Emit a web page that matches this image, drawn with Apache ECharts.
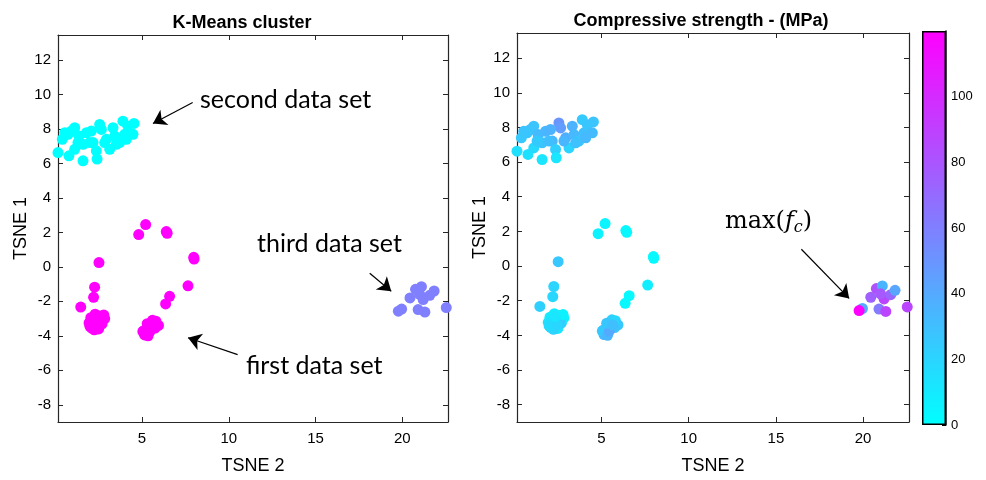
<!DOCTYPE html>
<html>
<head>
<meta charset="utf-8">
<script src="https://cdn.jsdelivr.net/npm/echarts@6/dist/echarts.min.js"></script>
<style>
html, body { margin: 0; padding: 0; background: #fff; }
#grafico { width: 986px; height: 480px; }
</style>
</head>
<body>
<div id="grafico"></div>
<script>
// tsne coordinates [TSNE 2, TSNE 1] per k-means cluster
var firstSet = [
  [5.21, 2.45], [4.81, 1.87], [6.40, 2.05], [6.45, 1.95], [7.98, 0.55], [8.00, 0.45],
  [2.52, 0.25], [7.65, -1.10], [2.27, -1.18], [2.21, -1.77], [6.59, -1.71], [6.36, -2.15],
  [1.47, -2.33],
  [1.95, -3.25], [2.05, -2.95], [2.10, -3.55], [2.30, -2.75], [2.35, -3.20], [2.50, -3.60],
  [2.60, -2.85], [2.70, -3.30], [2.85, -3.00], [2.15, -3.20], [2.45, -3.00], [2.25, -3.65],
  [2.65, -3.10], [2.00, -3.45], [2.80, -2.80], [2.45, -3.40], [2.35, -2.90],
  [5.10, -3.70], [5.15, -3.95], [5.30, -3.60], [5.45, -3.30], [5.60, -3.10], [5.80, -3.15],
  [5.95, -3.40], [5.25, -3.85], [5.55, -3.50], [5.05, -3.75], [5.35, -4.00], [5.75, -3.55],
  [5.70, -3.25], [5.45, -3.75], [5.30, -3.30], [5.65, -3.40]
];
var firstFc = [
  5, 6, 3, 4, 3, 3,
  26, 8, 20, 19, 3, 4,
  22,
  14, 10, 18, 9, 16, 12,
  11, 22, 8, 15, 13, 20,
  24, 17, 6, 19, 12,
  36, 32, 28, 26, 22, 18,
  26, 38, 31, 25, 34, 28,
  20, 40, 27, 30
];

var secondSet = [
  [0.16, 6.63], [0.41, 7.40], [0.55, 7.78], [0.79, 6.44], [0.93, 7.88], [1.12, 8.07],
  [1.12, 6.82], [1.37, 7.59], [1.60, 7.11], [1.60, 6.15], [1.80, 7.78], [2.08, 7.88],
  [2.18, 7.21], [2.37, 6.73], [2.41, 6.25], [2.56, 8.26], [2.66, 7.97], [2.95, 7.40],
  [3.14, 6.82], [3.33, 8.07], [3.43, 7.59], [3.71, 7.21], [3.90, 8.45], [4.00, 7.69],
  [4.19, 8.16], [4.48, 7.69], [4.54, 8.32], [1.99, 7.21], [1.31, 7.21], [2.85, 7.21],
  [3.52, 7.11], [4.10, 7.40], [0.74, 7.69]
];
var secondFc = [
  15, 26, 28, 14, 30, 28,
  18, 32, 28, 12, 34, 36,
  34, 22, 12, 50, 46, 38,
  20, 36, 33, 28, 25, 30,
  27, 32, 28, 30, 25, 34,
  29, 33, 27
];

var thirdSet = [
  [19.96, -2.45], [19.77, -2.57], [20.44, -1.80], [20.76, -1.30], [21.10, -1.15],
  [21.20, -1.90], [21.58, -1.65], [21.83, -1.40], [20.91, -2.48], [21.30, -2.62],
  [22.53, -2.36], [21.00, -1.60]
];
var thirdFc = [40, 120, 75, 82, 35, 88, 72, 42, 62, 88, 88, 78];

var clusterColors = ['#ff00ff', '#00ffff', '#8080ff'];
var xTicks = [5, 10, 15, 20];
var yTicks = [-8, -6, -4, -2, 0, 2, 4, 6, 8, 10, 12];
var colorTicks = [0, 20, 40, 60, 80, 100];
var colorMax = 120;

var fonte = 'Liberation Sans, Arial, sans-serif';
var preto = '#262626';

function eixoX(grid, pos, nome) {
  return {
    gridIndex: grid, type: 'value', position: pos,
    min: 0.16, max: 22.63,
    axisLine: { show: true, onZero: false, lineStyle: { color: preto, width: 1.2 } },
    axisTick: { show: true, inside: true, length: 5, customValues: xTicks, lineStyle: { color: preto } },
    axisLabel: { show: pos == 'bottom', customValues: xTicks, color: '#000', fontSize: 15, fontFamily: fonte, margin: 9 },
    splitLine: { show: false },
    name: nome, nameLocation: 'middle', nameGap: 35,
    nameTextStyle: { color: '#000', fontSize: 18, fontFamily: fonte }
  };
}
function eixoY(grid, pos, nome) {
  return {
    gridIndex: grid, type: 'value', position: pos,
    min: -9.0, max: 13.45,
    axisLine: { show: true, onZero: false, lineStyle: { color: preto, width: 1.2 } },
    axisTick: { show: true, inside: true, length: 5, customValues: yTicks, lineStyle: { color: preto } },
    axisLabel: { show: pos == 'left', customValues: yTicks, color: '#000', fontSize: 15, fontFamily: fonte, margin: 7 },
    splitLine: { show: false },
    name: nome, nameLocation: 'middle', nameGap: 27,
    nameTextStyle: { color: '#000', fontSize: 18, fontFamily: fonte }
  };
}

var rightData = [];
function juntar(set, fc) {
  for (var i = 0; i < set.length; i++) {
    rightData.push([set[i][0], set[i][1], fc[i]]);
  }
}
juntar(secondSet, secondFc);
juntar(firstSet, firstFc);
juntar(thirdSet, thirdFc);

var seta = { color: '#000', width: 1.2, type: 'solid' };

var chartDom = document.getElementById('grafico');
var myChart = echarts.init(chartDom);
var option;

option = {
  animation: false,
  backgroundColor: '#fff',
  title: [
    { text: 'K-Means cluster', left: 237, top: 9, textAlign: 'center',
      textStyle: { fontSize: 18, fontWeight: 'bold', color: '#000', fontFamily: fonte } },
    { text: 'Compressive strength - (MPa)', left: 696, top: 7, textAlign: 'center',
      textStyle: { fontSize: 18, fontWeight: 'bold', color: '#000', fontFamily: fonte } }
  ],
  grid: [
    { left: 58, top: 35, width: 390, height: 390 },
    { left: 517, top: 33, width: 392, height: 392 },
    { left: 922, top: 31, width: 24, height: 394 }
  ],
  xAxis: [
    eixoX(0, 'bottom', 'TSNE 2'),
    eixoX(0, 'top', ''),
    eixoX(1, 'bottom', 'TSNE 2'),
    eixoX(1, 'top', ''),
    { gridIndex: 2, type: 'category', data: [''], show: false }
  ],
  yAxis: [
    eixoY(0, 'left', 'TSNE 1'),
    eixoY(0, 'right', ''),
    eixoY(1, 'left', 'TSNE 1'),
    eixoY(1, 'right', ''),
    {
      gridIndex: 2, type: 'value', position: 'right', min: 0, max: colorMax,
      axisLine: { show: true, lineStyle: { color: '#000', width: 1.5 } },
      axisTick: { show: true, inside: true, length: 4, customValues: colorTicks, lineStyle: { color: '#000' } },
      axisLabel: { customValues: colorTicks, color: '#000', fontSize: 13, fontFamily: fonte, margin: 5 },
      splitLine: { show: false }
    }
  ],
  visualMap: {
    type: 'continuous', show: false, seriesIndex: 3, dimension: 2,
    min: 0, max: colorMax,
    inRange: { color: ['#00ffff', '#ff00ff'] }
  },
  series: [
    { name: 'first', type: 'scatter', xAxisIndex: 0, yAxisIndex: 0, data: firstSet,
      symbolSize: 11, itemStyle: { color: clusterColors[0], opacity: 1 } },
    { name: 'second', type: 'scatter', xAxisIndex: 0, yAxisIndex: 0, data: secondSet,
      symbolSize: 11, itemStyle: { color: clusterColors[1], opacity: 1 } },
    { name: 'third', type: 'scatter', xAxisIndex: 0, yAxisIndex: 0, data: thirdSet,
      symbolSize: 11, itemStyle: { color: clusterColors[2], opacity: 1 } },
    { name: 'fc', type: 'scatter', xAxisIndex: 2, yAxisIndex: 2, data: rightData,
      symbolSize: 11, itemStyle: { opacity: 1 } },
    { name: 'colorbar', type: 'bar', xAxisIndex: 4, yAxisIndex: 4, data: [colorMax],
      barWidth: '100%', silent: true,
      itemStyle: {
        color: new echarts.graphic.LinearGradient(0, 0, 0, 1, [
          { offset: 0, color: '#ff00ff' },
          { offset: 1, color: '#00ffff' }
        ]),
        borderColor: '#000', borderWidth: 1.5
      }
    },
    { name: 'setasL', type: 'line', xAxisIndex: 0, yAxisIndex: 0, data: [],
      markLine: {
        silent: true, symbol: ['none', 'arrow'], symbolSize: 13,
        label: { show: false }, lineStyle: seta,
        data: [
          [{ coord: [7.92, 9.53] }, { coord: [5.63, 8.32] }],
          [{ coord: [10.51, -5.09] }, { coord: [7.65, -4.11] }],
          [{ coord: [18.12, -0.37] }, { coord: [19.36, -1.42] }]
        ]
      }
    },
    { name: 'setasR', type: 'line', xAxisIndex: 2, yAxisIndex: 2, data: [],
      markLine: {
        silent: true, symbol: ['none', 'arrow'], symbolSize: 13,
        label: { show: false }, lineStyle: seta,
        data: [
          [{ coord: [16.46, 0.97] }, { coord: [19.2, -1.87] }]
        ]
      }
    }
  ],
  graphic: [
    { type: 'text', x: 200, y: 100, style: { text: 'second data set', fontSize: 25, fontFamily: 'Lato', fill: '#000', verticalAlign: 'middle' } },
    { type: 'text', x: 257, y: 244, style: { text: 'third data set', fontSize: 25, fontFamily: 'Lato', fill: '#000', verticalAlign: 'middle' } },
    { type: 'text', x: 246, y: 366, style: { text: 'first data set', fontSize: 25, fontFamily: 'Lato', fill: '#000', verticalAlign: 'middle' } },
    { type: 'text', x: 725, y: 222, style: {
        text: '{r|max(}{i|f}{s|c}{r|)}', verticalAlign: 'middle',
        rich: {
          r: { fontSize: 24, fontFamily: 'DejaVu Serif', fill: '#000', lineHeight: 28 },
          i: { fontSize: 24, fontFamily: 'DejaVu Serif', fontStyle: 'italic', fill: '#000', lineHeight: 28 },
          s: { fontSize: 16, fontFamily: 'DejaVu Serif', fontStyle: 'italic', fill: '#000', lineHeight: 28, verticalAlign: 'bottom', padding: [8, 0, 0, 0] }
        }
      }
    }
  ]
};

option && myChart.setOption(option);
</script>
</body>
</html>
